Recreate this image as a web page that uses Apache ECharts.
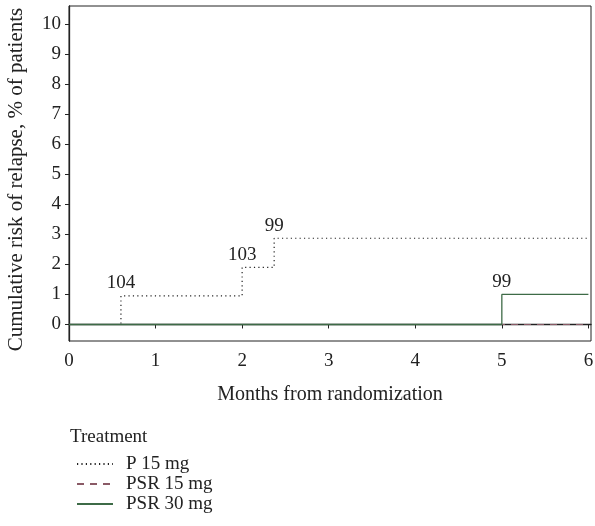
<!DOCTYPE html>
<html>
<head>
<meta charset="utf-8">
<script src="https://cdn.jsdelivr.net/npm/echarts@6/dist/echarts.min.js"></script>
<style>
* { margin: 0; padding: 0; }
body { background: #fff; }
</style>
</head>
<body>
<div id="main" style="width:595px;height:526px;background:#fff"></div>
<script>
// 数据
var seriesNames = ['P 15 mg', 'PSR 15 mg', 'PSR 30 mg'];
var p15 = [[0, 0], [0.6, 0.95], [2.0, 1.9], [2.37, 2.87], [6.0, 2.87]];
var psr15 = [[0, 0], [6.0, 0]];
var psr30 = [[0, 0], [5.0, 1.0], [6.0, 1.0]];
var p15Labels = ['', '104', '103', '99', ''];
var psr30Labels = ['', '99', ''];
var xTicks = [0, 1, 2, 3, 4, 5, 6];
var yTicks = [0, 1, 2, 3, 4, 5, 6, 7, 8, 9, 10];

var font = 'Liberation Serif';

// 把数字标注做成 markPoint（折线 symbol 为 none 时 label 不显示）
function markLabels(data, labels) {
  var out = [];
  data.forEach(function (d, i) {
    if (!labels[i]) return;
    out.push({ coord: d, value: labels[i] });
  });
  return {
    symbol: 'circle',
    symbolSize: 0,
    silent: true,
    label: {
      show: true, position: 'top', distance: 3,
      formatter: '{c}',
      fontFamily: font, fontSize: 19, color: '#222'
    },
    data: out
  };
}

var chart = echarts.init(document.getElementById('main'));
chart.setOption({
  animation: false,
  textStyle: { fontFamily: font },
  title: {
    text: 'Treatment',
    left: 70,
    top: 428,
    padding: 0,
    textStyle: { fontFamily: font, fontSize: 19, fontWeight: 'normal', color: '#222' }
  },
  legend: {
    orient: 'vertical',
    left: 76,
    top: 454,
    bottom: 0,
    padding: 0,
    itemWidth: 36,
    itemHeight: 14,
    itemGap: 0,
    itemStyle: { opacity: 0 },
    data: seriesNames,
    textStyle: { fontFamily: font, fontSize: 19, color: '#222', lineHeight: 20, padding: [0, 0, 0, 8] }
  },
  grid: {
    left: 69, right: 4, top: 6, bottom: 185,
    outerBoundsMode: 'none',
    show: true, borderColor: '#222', borderWidth: 1
  },
  xAxis: {
    type: 'value',
    min: 0, max: 6.03,
    name: 'Months from randomization',
    nameLocation: 'middle',
    nameGap: 44,
    nameTextStyle: { fontFamily: font, fontSize: 20, color: '#222' },
    splitLine: { show: false },
    axisLine: { lineStyle: { color: '#222', width: 1.3 } },
    axisTick: { show: true, length: 4, customValues: xTicks, lineStyle: { color: '#222' } },
    axisLabel: { customValues: xTicks, fontFamily: font, fontSize: 19, color: '#222', margin: 11 }
  },
  yAxis: {
    type: 'value',
    min: -0.55, max: 10.6,
    name: 'Cumulative risk of relapse, % of patients',
    nameLocation: 'middle',
    nameGap: 42,
    nameTextStyle: { fontFamily: font, fontSize: 21, color: '#222', padding: [0, 0, 0, -12] },
    splitLine: { show: false },
    axisLine: { show: true, lineStyle: { color: '#222', width: 1.3 } },
    axisTick: { show: true, length: 4, customValues: yTicks, lineStyle: { color: '#222' } },
    axisLabel: { customValues: yTicks, fontFamily: font, fontSize: 19, color: '#222', margin: 8 }
  },
  series: [
    {
      name: seriesNames[0],
      type: 'line',
      step: 'end',
      symbol: 'none',
      color: '#222',
      lineStyle: { color: '#222', width: 1.2, type: [1.2, 3.2] },
      data: p15,
      markPoint: markLabels(p15, p15Labels),
      z: 2
    },
    {
      name: seriesNames[1],
      type: 'line',
      step: 'end',
      symbol: 'none',
      color: '#8a5a66',
      lineStyle: { color: '#8a5a66', width: 1.2, type: [7, 6] },
      data: psr15,
      z: 3
    },
    {
      name: seriesNames[2],
      type: 'line',
      step: 'end',
      symbol: 'none',
      color: '#3e6b47',
      lineStyle: { color: '#3e6b47', width: 1.3 },
      data: psr30,
      markPoint: markLabels(psr30, psr30Labels),
      z: 4
    }
  ]
});
</script>
</body>
</html>
